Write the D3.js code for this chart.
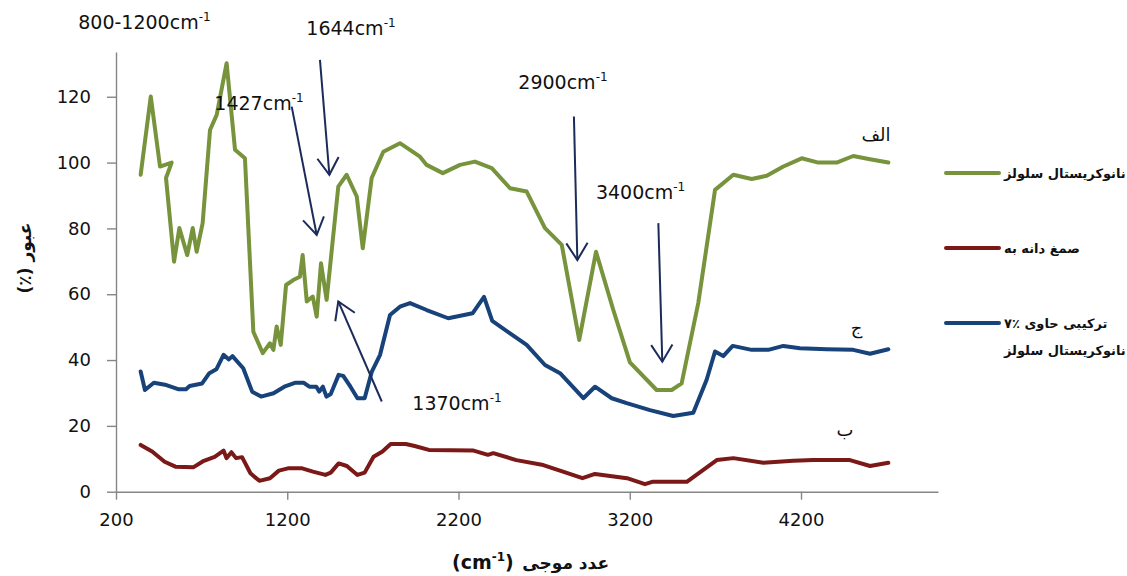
<!DOCTYPE html>
<html>
<head>
<meta charset="utf-8">
<script src="https://cdn.jsdelivr.net/npm/d3@7"></script>
<style>
  body { margin: 0; background: #fff; }
  svg { display: block; }
</style>
</head>
<body>
<div id="chart"></div>
<script>
const width = 1127;
const height = 576;

// FTIR spectra (wavenumber cm-1, transmittance %)
const wnGreen = [344,403,457,525,492,539,570,616,648,671,706,749,788,846,895,953,1002,1057,1099,1119,1138,1162,1193,1235,1274,1290,1314,1349,1372,1397,1430,1498,1547,1606,1641,1693,1761,1858,1975,2014,2108,2209,2296,2394,2501,2598,2705,2803,2905,3003,3104,3201,3357,3445,3503,3600,3698,3805,3912,4000,4097,4204,4301,4408,4505,4603,4710];
const tGreen = [96.3,120.1,98.8,100,95.3,69.9,80.1,71.9,80.1,72.9,81.6,109.9,114.5,130.2,103.9,101.3,48.6,42.1,45.1,43.1,50.2,44.6,62.8,64.3,65.3,71.9,57.8,59.3,53.2,69.4,58.3,92.7,96.3,89.7,74,95.3,103.3,105.9,101.8,99.3,96.8,99.3,100.3,98.3,92.2,91.2,80.1,75,46.1,72.9,55.2,39.3,30.9,30.9,32.9,57.3,91.7,96.3,95,96,98.8,101.3,100,100,102,101,100];

const wnBlue = [344,369,421,494,567,609,630,703,745,786,828,859,880,943,995,1047,1120,1183,1245,1297,1329,1370,1387,1408,1429,1454,1500,1527,1569,1610,1652,1694,1742,1800,1858,1917,2014,2140,2282,2349,2397,2501,2598,2705,2793,2929,2997,3095,3182,3318,3454,3571,3649,3698,3746,3801,3912,4009,4097,4194,4350,4505,4603,4710];
const tBlue = [36.5,30.9,33.1,32.4,31.1,31.1,32.1,32.9,36,37.2,41.6,40.2,41.2,37.5,30.4,28.9,29.9,31.9,33.1,33.1,31.9,31.9,30.4,31.9,28.9,29.7,35.5,35.2,31.9,28.4,28.4,36.5,41.6,53.7,56.2,57.3,55.2,52.7,54.2,59.2,51.9,48.1,44.6,38.5,36,28.4,31.9,28.4,26.9,24.8,23,24,34,42.6,41.2,44.3,43.1,43.1,44.3,43.6,43.3,43.1,41.9,43.3];

const wnRed = [344,411,484,547,651,713,776,828,845,874,901,936,985,1037,1099,1151,1204,1287,1350,1423,1454,1500,1548,1610,1652,1704,1756,1804,1892,1944,2027,2288,2372,2403,2538,2695,2810,2924,2997,3184,3289,3331,3533,3708,3805,3980,4155,4272,4486,4603,4710];
const tRed = [14.2,12.2,9.1,7.6,7.4,9.4,10.6,12.5,10.2,12,10.2,10.5,5.6,3.3,4.1,6.4,7.1,7.1,6.1,5.1,5.8,8.6,7.8,5.1,5.8,10.6,12.2,14.5,14.5,13.9,12.7,12.5,11.2,11.7,9.6,8.1,6.1,4.1,5.4,4.1,2.3,3,3,9.6,10.2,8.8,9.4,9.6,9.6,7.8,8.8];

const legendNames = ["نانوکریستال سلولز", "صمغ دانه به", "ترکیبی حاوی ٪۷"];
const legendExtra = "نانوکریستال سلولز";
const curveTags = ["الف", "ب", "ج"];
const curveTagPos = [[4638, 106.6], [4457, 16.9], [4524, 47.9]];

const xTicks = [200, 1200, 2200, 3200, 4200];
const yTicks = [0, 20, 40, 60, 80, 100, 120];

// band annotations: label, label anchor, arrow tail, arrow tip (data units)
const bandLabels = ["800-1200", "1644", "1427", "2900", "3400", "1370"];
const bandLabelAt = [[366, 140.6], [1572, 138.8], [1035, 116], [2810, 122.4], [3263, 89], [2191, 24.8]];
const arrowFrom = [null, [1391, 131.2], [1226, 117], [2874, 114], [3367, 81.6], [1752, 27.4]];
const arrowTo = [null, [1446, 96.3], [1372, 78], [2894, 70.4], [3390, 39.5], [1498, 57.8]];

const colors = ["#77933c", "#7b1818", "#17427a"];
const arrowColor = "#1c2b5a";

const series = [
  { wn: wnGreen, t: tGreen },
  { wn: wnRed, t: tRed },
  { wn: wnBlue, t: tBlue }
];

const x = d3.scaleLinear().domain([200, 5000]).range([116, 938]);
const y = d3.scaleLinear().domain([0, 133.6]).range([491.7, 52]);

const svg = d3.select("#chart").append("svg")
    .attr("width", width)
    .attr("height", height)
    .attr("viewBox", [0, 0, width, height]);

svg.append("rect").attr("width", width).attr("height", height).attr("fill", "#fff");

// axes
const xAxis = svg.append("g")
    .attr("transform", `translate(0,${y(0)})`)
    .call(d3.axisBottom(x).tickValues(xTicks).tickFormat(d3.format("d")).tickSize(8).tickSizeOuter(0).tickPadding(14));
const yAxis = svg.append("g")
    .attr("transform", `translate(${x(200)},0)`)
    .call(d3.axisLeft(y).tickValues(yTicks).tickSize(9).tickSizeOuter(0).tickPadding(16));

[xAxis, yAxis].forEach(a => {
  a.select(".domain").attr("stroke", "#868686").attr("stroke-width", 1.4);
  a.selectAll(".tick line").attr("stroke", "#868686").attr("stroke-width", 1.4);
  a.selectAll(".tick text")
      .attr("fill", "#111")
      .style("font-family", "DejaVu Sans, sans-serif")
      .style("font-size", "18px");
});

// spectra
const line = d3.line()
    .x(d => x(d[0]))
    .y(d => y(d[1]));

svg.append("g").selectAll("path")
  .data(series)
  .join("path")
    .attr("d", s => line(s.wn.map((w, i) => [w, s.t[i]])))
    .attr("fill", "none")
    .attr("stroke", (s, i) => colors[i])
    .attr("stroke-width", 4)
    .attr("stroke-linejoin", "round")
    .attr("stroke-linecap", "round");

// curve tags
svg.append("g").selectAll("text")
  .data(curveTags)
  .join("text")
    .attr("x", (d, i) => x(curveTagPos[i][0]))
    .attr("y", (d, i) => y(curveTagPos[i][1]))
    .attr("text-anchor", "middle")
    .style("font-family", "DejaVu Sans, sans-serif")
    .style("font-size", "18px")
    .attr("fill", "#111")
    .text(d => d);

// band annotations
const ann = svg.append("g");
bandLabels.forEach((lab, i) => {
  const t = ann.append("text")
      .attr("x", x(bandLabelAt[i][0]))
      .attr("y", y(bandLabelAt[i][1]))
      .attr("text-anchor", "middle")
      .attr("fill", "#111")
      .style("font-family", "DejaVu Sans, sans-serif")
      .style("font-size", "19px");
  t.append("tspan").text(lab + "cm");
  t.append("tspan").attr("dy", -8).style("font-size", "12px").text("-1");

  if (!arrowFrom[i]) return;
  const x0 = x(arrowFrom[i][0]), y0 = y(arrowFrom[i][1]);
  const x1 = x(arrowTo[i][0]), y1 = y(arrowTo[i][1]);
  const ang = Math.atan2(y1 - y0, x1 - x0);
  const len = 20, spread = Math.PI / 5.6;
  ann.append("line")
      .attr("x1", x0).attr("y1", y0).attr("x2", x1).attr("y2", y1)
      .attr("stroke", arrowColor).attr("stroke-width", 2);
  ann.append("path")
      .attr("d", `M${x1 - len * Math.cos(ang - spread)},${y1 - len * Math.sin(ang - spread)}L${x1},${y1}L${x1 - len * Math.cos(ang + spread)},${y1 - len * Math.sin(ang + spread)}`)
      .attr("fill", "none")
      .attr("stroke", arrowColor)
      .attr("stroke-width", 2);
});

// axis titles
const xt = svg.append("g").style("font-family", "DejaVu Sans, sans-serif").style("font-weight", "bold").attr("fill", "#111");
const cm = xt.append("text").attr("x", 452).attr("y", 569).style("font-size", "19px");
cm.append("tspan").text("(cm");
cm.append("tspan").attr("dy", -8).style("font-size", "12px").text("-1");
cm.append("tspan").attr("dy", 8).text(")");
xt.append("text").attr("x", 609).attr("y", 569).attr("text-anchor", "end").style("font-size", "17px").text("عدد موجی");

svg.append("text")
    .attr("transform", "translate(31,258) rotate(-90)")
    .attr("text-anchor", "middle")
    .attr("direction", "rtl")
    .attr("fill", "#111")
    .style("font-family", "DejaVu Sans, sans-serif")
    .style("font-weight", "bold")
    .style("font-size", "17px")
    .text("عبور (٪)");

// legend
const legend = svg.append("g");
const legendY = [173, 248, 323];
legendNames.forEach((name, i) => {
  legend.append("line")
      .attr("x1", 946).attr("x2", 999)
      .attr("y1", legendY[i]).attr("y2", legendY[i])
      .attr("stroke", colors[i]).attr("stroke-width", 4).attr("stroke-linecap", "round");
  legend.append("text")
      .attr("x", 1004).attr("y", legendY[i]).attr("dy", "0.35em")
      .attr("fill", "#111")
      .style("font-family", "DejaVu Sans, sans-serif")
      .style("font-weight", "bold")
      .style("font-size", "13px")
      .text(name);
});
legend.append("text")
    .attr("x", 1004).attr("y", 350).attr("dy", "0.35em")
    .attr("fill", "#111")
    .style("font-family", "DejaVu Sans, sans-serif")
    .style("font-weight", "bold")
    .style("font-size", "13px")
    .text(legendExtra);
</script>
</body>
</html>
